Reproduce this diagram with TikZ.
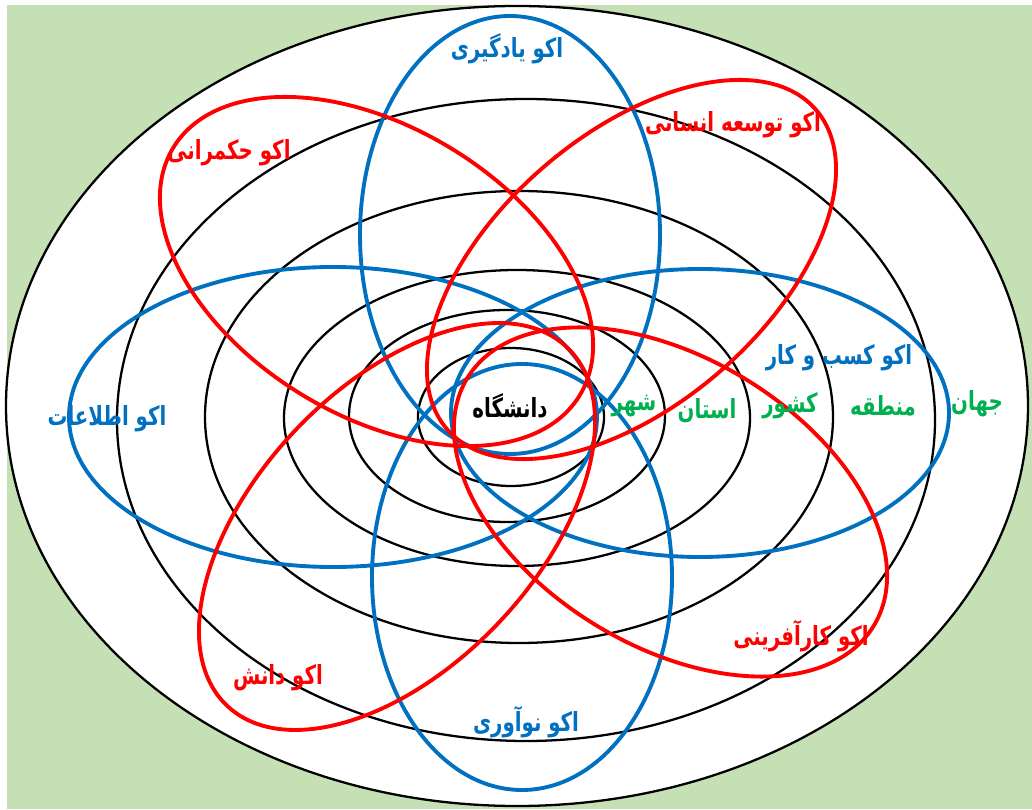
\documentclass[tikz,border=0pt]{standalone}
\usepackage{fontspec}
\newfontfamily\fa[Script=Arabic]{DejaVu Sans}
\TeXXeTstate=1
\newcommand\fatxt[1]{\scalebox{0.9}[1.2]{\beginR #1\endR}}
\definecolor{bggreen}{HTML}{C5E0B4}
\definecolor{eblue}{HTML}{0070C0}
\definecolor{ered}{HTML}{FF0000}
\definecolor{tgreen}{HTML}{00B050}
\tikzset{
  ring/.style={draw=black, line width=1.3pt},
  blueloop/.style={draw=eblue, line width=2.2pt},
  redloop/.style={draw=ered, line width=2.2pt},
  lab/.style={font=\fa\bfseries\fontsize{12.5}{14}\selectfont, inner sep=0pt},
}
\begin{document}
\begin{tikzpicture}[x=0.02cm, y=0.02cm]
\useasboundingbox (0,0) rectangle (1032,809);
\fill[white] (0,0) rectangle (1032,809);
\fill[bggreen] (7,0) rectangle (1032,804);
% outer world ellipse
\filldraw[fill=white, draw=black, line width=1.3pt] (517,403) ellipse [x radius=511, y radius=400];
% concentric rings
\draw[ring] (526,389) ellipse [x radius=409, y radius=321];
\draw[ring] (519,392) ellipse [x radius=314, y radius=226];
\draw[ring] (517,391) ellipse [x radius=233, y radius=148];
\draw[ring] (507,393) ellipse [x radius=158, y radius=106];
\draw[ring] (511,392) ellipse [x radius=93, y radius=69];
% blue loops
\draw[blueloop] (510,574) ellipse [x radius=150, y radius=219];
\draw[blueloop] (522,232) ellipse [x radius=150, y radius=213];
\draw[blueloop] (333,392) ellipse [x radius=264, y radius=150];
\draw[blueloop] (700,396) ellipse [x radius=249, y radius=144];
% red loops
\draw[redloop, rotate around={-31.4:(376.5,537.5)}] (376.5,537.5) ellipse [x radius=238, y radius=144];
\draw[redloop, rotate around={40.9:(631.5,539.5)}] (631.5,539.5) ellipse [x radius=244, y radius=135];
\draw[redloop, rotate around={46.5:(397,282.5)}] (397,282.5) ellipse [x radius=247, y radius=140];
\draw[redloop, rotate around={-31.4:(670.5,307)}] (670.5,307) ellipse [x radius=238, y radius=144];
% labels
\node[lab, text=eblue] (yad) at (507,760) {\fatxt{اکو یادگیری}};
\node[lab, text=ered] (tos) at (733,684) {\fatxt{اکو توسعه انسانی}};
\node[lab, text=ered] (hok) at (229,656) {\fatxt{اکو حکمرانی}};
\node[lab, text=eblue] (kas) at (839,451) {\fatxt{اکو کسب و کار}};
\node[lab, text=tgreen] (jah) at (977,405) {\fatxt{جهان}};
\node[lab, text=tgreen] (man) at (883,403) {\fatxt{منطقه}};
\node[lab, text=tgreen] (kes) at (790,403) {\fatxt{کشور}};
\node[lab, text=tgreen] (ost) at (707,398) {\fatxt{استان}};
\node[lab, text=tgreen] (sha) at (634,403) {\fatxt{شهر}};
\node[lab, text=black] (dan) at (510,403) {\fatxt{دانشگاه}};
\node[lab, text=eblue] (ett) at (107,390) {\fatxt{اکو اطلاعات}};
\node[lab, text=ered] (kar) at (801,173) {\fatxt{اکو کارآفرینی}};
\node[lab, text=ered] (dae) at (278,131) {\fatxt{اکو دانش}};
\node[lab, text=eblue] (now) at (526,87) {\fatxt{اکو نوآوری}};
\end{tikzpicture}
\end{document}
